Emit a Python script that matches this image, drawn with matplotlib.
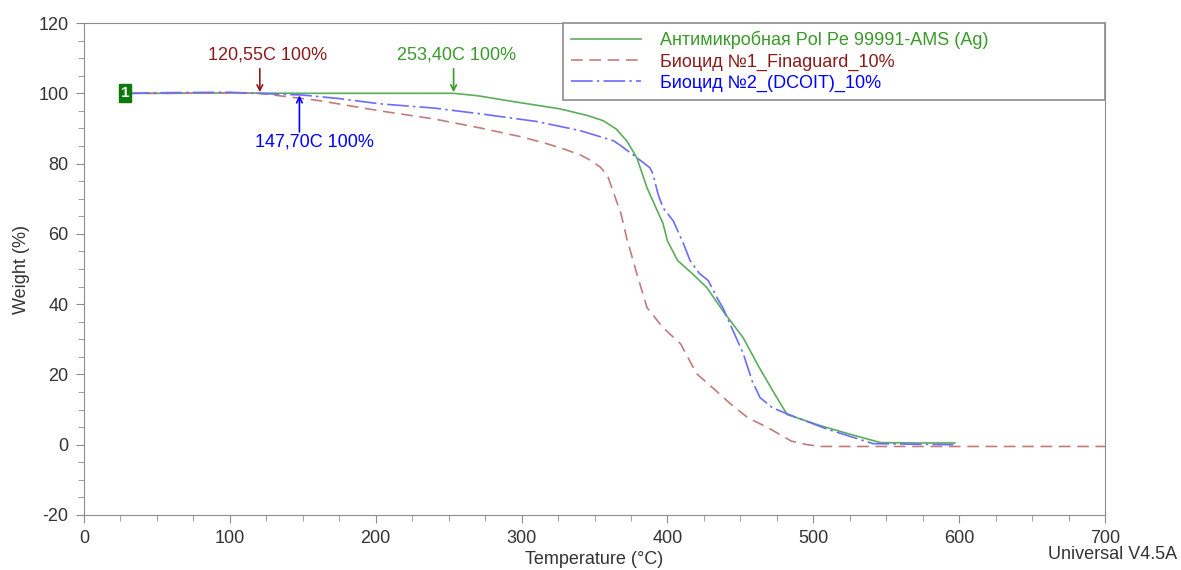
import matplotlib.pyplot as plt
from matplotlib.ticker import MultipleLocator

plt.rcParams['font.family'] = ['Liberation Sans', 'DejaVu Sans']
plt.rcParams['axes.unicode_minus'] = False

t_green = [30, 60, 100, 150, 200, 253.4, 270, 295, 326, 345, 356, 365, 372, 379, 386,
           393, 397, 400, 407, 417, 427, 438, 452, 463, 475, 482, 505, 525, 546, 570, 597]
w_green = [100, 100, 100.1, 100, 100, 100, 99.3, 97.6, 95.6, 93.7, 92.2, 89.8, 86.5, 81.7, 73.1,
           66.6, 62.9, 58.0, 52.4, 48.7, 44.7, 38.1, 30.4, 21.9, 13.4, 8.6, 5.4, 3.0, 0.6, 0.5, 0.5]

t_red = [30, 60, 100, 120.55, 134, 160, 203, 240, 271, 300, 317, 330, 340, 347, 354, 359, 362,
         365, 368, 372, 379, 386, 397, 409, 420, 431, 443, 455, 470, 485, 496, 505,
         550, 600, 650, 700]
w_red = [100, 100, 100.1, 100, 99.3, 98, 95, 92.7, 90.2, 87.6, 85.7, 84, 82.5, 81, 79, 76.5, 73,
         69.4, 66, 58.9, 48.7, 39, 33.3, 28.7, 20.2, 16.2, 11.7, 7.7, 4.6, 1.0, 0.0, -0.5,
         -0.5, -0.5, -0.5, -0.5]

t_blue = [30, 60, 100, 130, 150, 175, 203, 240, 271, 310, 340, 363, 368, 379, 388, 390, 393.5,
          397, 404, 411, 415.5, 422, 428, 434, 438, 445, 452, 458, 463.5, 472, 482, 509, 541, 596]
w_blue = [100, 100.2, 100.3, 99.8, 99.5, 98.5, 97.0, 95.8, 94.2, 92, 89.4, 86.5, 85.1, 81.7, 78.8,
          77.1, 71.4, 67.4, 63.7, 57.2, 52.4, 48.7, 46.7, 41.8, 39, 32.4, 25.9, 18.2, 13.4, 10.5,
          8.8, 4.5, 0.3, 0]

names = ['Антимикробная Pol Pe 99991-AMS (Ag)', 'Биоцид №1_Finaguard_10%', 'Биоцид №2_(DCOIT)_10%']

# точки начала потери массы: (температура, подпись)
onset_red = (120.55, '120,55C 100%')
onset_green = (253.40, '253,40C 100%')
onset_blue = (147.70, '147,70C 100%')

fig = plt.figure(figsize=(11.81, 5.70), dpi=100)
ax = fig.add_axes([0.0711, 0.0965, 0.8646, 0.8631])

ax.plot(t_green, w_green, color='#5aae5a', lw=1.2, label=names[0])
ax.plot(t_red, w_red, color='#c27c7c', lw=1.2, dashes=(7, 4), label=names[1])
ax.plot(t_blue, w_blue, color='#6b6bff', lw=1.2, dashes=(13, 2.5, 1.5, 2.5), label=names[2])

ax.set_xlim(0, 700)
ax.set_ylim(-20, 120)
ax.xaxis.set_major_locator(MultipleLocator(100))
ax.xaxis.set_minor_locator(MultipleLocator(25))
ax.yaxis.set_major_locator(MultipleLocator(20))
ax.yaxis.set_minor_locator(MultipleLocator(5))
for s in ax.spines.values():
    s.set_color('#8c8c8c')
ax.tick_params(which='both', direction='out', colors='#8c8c8c', labelcolor='#333333', labelsize=13)
ax.tick_params(which='major', length=6, pad=5)
ax.tick_params(which='minor', length=4)

ax.set_xlabel('Temperature (°C)', fontsize=13, color='#333333', labelpad=3)
ax.set_ylabel('Weight (%)', fontsize=13, color='#333333', labelpad=6)
fig.text(0.997, 0.012, 'Universal V4.5A', ha='right', va='bottom', fontsize=13, color='#333333')

# стрелки onset
arr = dict(arrowstyle='->', lw=1.2, shrinkA=0, shrinkB=0, mutation_scale=10)
ax.annotate('', xy=(onset_red[0], 100.3), xytext=(onset_red[0], 107),
            arrowprops=dict(arr, color='#8b1a1a'))
ax.text(onset_red[0] + 5.5, 108.5, onset_red[1], ha='center', va='bottom', fontsize=13, color='#8b1a1a')
ax.annotate('', xy=(onset_green[0], 100.3), xytext=(onset_green[0], 107),
            arrowprops=dict(arr, color='#3a9a2a'))
ax.text(onset_green[0] + 2, 108.5, onset_green[1], ha='center', va='bottom', fontsize=13, color='#3a9a2a')
ax.annotate('', xy=(onset_blue[0], 99.4), xytext=(onset_blue[0], 89),
            arrowprops=dict(arr, color='#0000ff'))
ax.text(onset_blue[0] + 10, 88.5, onset_blue[1], ha='center', va='top', fontsize=13, color='#0000ff')

# маркер кривой "1"
ax.text(28, 100, '1', ha='center', va='center', fontsize=11, fontweight='bold', color='white',
        bbox=dict(boxstyle='square,pad=0.12', fc='#0b7a0b', ec='#0b7a0b'))

leg = ax.legend(loc='upper right', bbox_to_anchor=(0.469, 0.8, 0.531, 0.2), mode='expand',
                borderaxespad=0, fancybox=False, framealpha=1, edgecolor='#8c8c8c',
                fontsize=13, handlelength=3.9, handletextpad=1.05, labelspacing=0.22,
                borderpad=0.45)
leg.get_frame().set_linewidth(1.2)
for txt, c in zip(leg.get_texts(), ['#3a9a2a', '#8b1a1a', '#0000ff']):
    txt.set_color(c)

fig.savefig('out.png', dpi=100)
